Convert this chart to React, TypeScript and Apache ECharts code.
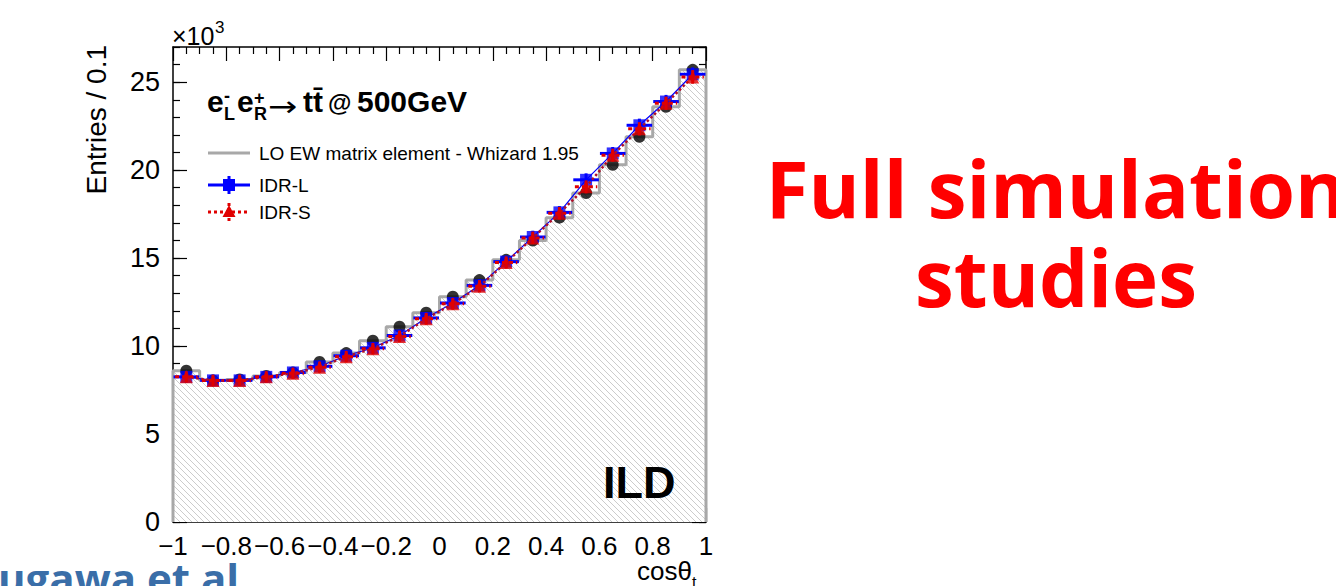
import React, { useEffect, useRef } from "react";
import * as echarts from "echarts";

// cos(theta_t) bin centres, bin width 0.1
const binCenters = [
  -0.95, -0.85, -0.75, -0.65, -0.55, -0.45, -0.35, -0.25, -0.15, -0.05,
  0.05, 0.15, 0.25, 0.35, 0.45, 0.55, 0.65, 0.75, 0.85, 0.95,
];
const binHalfWidth = 0.05;

// Entries per bin, in units of 10^3
const whizardLO = [
  8.6, 8.05, 8.1, 8.3, 8.5, 9.1, 9.6, 10.3, 11.1, 11.9,
  12.8, 13.75, 14.9, 16.0, 17.3, 18.7, 20.3, 21.9, 23.6, 25.7,
];
const idrL = [
  8.25, 8.05, 8.05, 8.25, 8.5, 8.85, 9.45, 9.9, 10.6, 11.6,
  12.45, 13.45, 14.8, 16.2, 17.6, 19.45, 20.95, 22.55, 23.9, 25.45,
];
const idrLErr = [
  0.09, 0.09, 0.09, 0.09, 0.09, 0.09, 0.1, 0.1, 0.1, 0.11,
  0.11, 0.12, 0.12, 0.13, 0.13, 0.14, 0.14, 0.15, 0.15, 0.16,
];
const idrS = [
  8.25, 8.05, 8.05, 8.25, 8.45, 8.8, 9.4, 9.85, 10.55, 11.55,
  12.4, 13.4, 14.75, 16.15, 17.55, 19.05, 20.85, 22.35, 23.8, 25.3,
];
const idrSErr = [
  0.09, 0.09, 0.09, 0.09, 0.09, 0.09, 0.1, 0.1, 0.1, 0.11,
  0.11, 0.12, 0.12, 0.13, 0.13, 0.14, 0.14, 0.15, 0.15, 0.16,
];

// Axis ranges
const X_MIN = -1;
const X_MAX = 1;
const X_STEP = 0.2;
const Y_MIN = 0;
const Y_MAX = 27;
const Y_STEP = 5;
const Y_MINOR_STEP = 1;

const ROOT_FONT = '"Liberation Sans", Arial, Helvetica, sans-serif';
const SLIDE_FONT = '"Open Sans", "Noto Sans", sans-serif';
const BLUE = "#0000ff";
const RED = "#e00000";
const GREY = "#a8a8a8";

function makeHatch(): HTMLCanvasElement {
  const s = 6;
  const c = document.createElement("canvas");
  c.width = s;
  c.height = s;
  const g = c.getContext("2d")!;
  g.fillStyle = "#ffffff";
  g.fillRect(0, 0, s, s);
  g.strokeStyle = "#cccccc";
  g.lineWidth = 1;
  g.beginPath();
  for (let k = -1; k <= 1; k++) {
    g.moveTo(k * s - 1, -1);
    g.lineTo(k * s + s + 1, s + 1);
  }
  g.stroke();
  return c;
}

function fmtX(v: number): string {
  const r = Math.round(v * 10) / 10;
  if (r === 0) return "0";
  const s = String(Math.abs(r));
  return r < 0 ? "\u2212" + s : s;
}

function errorBars(
  name: string,
  vals: number[],
  errs: number[],
  half: number,
  color: string,
  dashed: boolean,
  z: number
) {
  return {
    type: "custom",
    name,
    z,
    xAxisIndex: 0,
    yAxisIndex: 0,
    data: binCenters.map((c, i) => [c, vals[i], errs[i]]),
    renderItem: (_p: any, api: any) => {
      const x = api.value(0);
      const y = api.value(1);
      const e = api.value(2);
      const l = api.coord([x - half, y]);
      const r = api.coord([x + half, y]);
      const t = api.coord([x, y + e]);
      const b = api.coord([x, y - e]);
      return {
        type: "group",
        children: [
          {
            type: "line",
            shape: { x1: l[0], y1: l[1], x2: r[0], y2: r[1] },
            style: { stroke: color, lineWidth: 3, lineDash: dashed ? [4, 3] : null },
          },
          {
            type: "line",
            shape: { x1: t[0], y1: t[1] - 4, x2: b[0], y2: b[1] + 4 },
            style: { stroke: color, lineWidth: 3 },
          },
        ],
      };
    },
  };
}

function txt(
  text: string,
  x: number,
  y: number,
  size: number,
  opts: { weight?: string; family?: string; fill?: string; align?: string; rotation?: number; scaleX?: number } = {}
) {
  return {
    type: "text",
    x,
    y,
    rotation: opts.rotation || 0,
    scaleX: opts.scaleX || 1,
    z: 100,
    style: {
      text,
      fill: opts.fill || "#000",
      fontSize: size,
      fontWeight: opts.weight || "normal",
      fontFamily: opts.family || ROOT_FONT,
      align: opts.align || "left",
      verticalAlign: "middle",
    },
  };
}

export default function App() {
  const ref = useRef<HTMLDivElement>(null);

  useEffect(() => {
    if (!ref.current) return;
    const chart = echarts.init(ref.current, null, { renderer: "svg" });

    const hatch = makeHatch();
    const stepPoints: number[][] = [[X_MIN, 0]];
    binCenters.forEach((c, i) => {
      stepPoints.push([+(c - binHalfWidth).toFixed(2), whizardLO[i]]);
      stepPoints.push([+(c + binHalfWidth).toFixed(2), whizardLO[i]]);
    });
    stepPoints.push([X_MAX, 0]);

    const axisLine = { show: true, onZero: false, lineStyle: { color: "#000", width: 1.5 } };
    const noLine = { show: false, onZero: false };
    const tickLine = { color: "#000", width: 1.2 };

    const xBase = {
      type: "value",
      min: X_MIN,
      max: X_MAX,
      interval: X_STEP,
      axisLine,
      axisTick: { show: true, inside: true, length: 14, lineStyle: tickLine },
      minorTick: { show: true, splitNumber: 4, length: 7, lineStyle: tickLine },
      splitLine: { show: false },
      minorSplitLine: { show: false },
    };
    const yBase = {
      type: "value",
      min: Y_MIN,
      max: Y_MAX,
      splitLine: { show: false },
    };

    const legendY = [153, 185, 212];

    chart.setOption({
      animation: false,
      backgroundColor: "#ffffff",
      grid: { left: 173, right: 630, top: 47, bottom: 64, containLabel: false },
      xAxis: [
        {
          ...xBase,
          position: "bottom",
          axisLabel: {
            show: true,
            color: "#000",
            fontSize: 26,
            fontFamily: ROOT_FONT,
            margin: 11,
            formatter: fmtX,
          },
        },
        { ...xBase, position: "top", axisLabel: { show: false } },
      ],
      yAxis: [
        {
          ...yBase,
          position: "left",
          interval: Y_STEP,
          axisLine,
          axisTick: { show: true, inside: true, length: 14, lineStyle: tickLine },
          axisLabel: {
            show: true,
            color: "#000",
            fontSize: 27,
            fontFamily: ROOT_FONT,
            margin: 13,
            showMaxLabel: false,
          },
        },
        {
          ...yBase,
          position: "left",
          interval: Y_MINOR_STEP,
          axisLine: noLine,
          axisTick: { show: true, inside: true, length: 7, lineStyle: tickLine },
          axisLabel: { show: false },
        },
        {
          ...yBase,
          position: "right",
          interval: Y_STEP,
          axisLine,
          axisTick: { show: true, inside: true, length: 14, lineStyle: tickLine },
          axisLabel: { show: false },
        },
        {
          ...yBase,
          position: "right",
          interval: Y_MINOR_STEP,
          axisLine: noLine,
          axisTick: { show: true, inside: true, length: 7, lineStyle: tickLine },
          axisLabel: { show: false },
        },
      ],
      series: [
        {
          type: "line",
          name: "LO EW matrix element - Whizard 1.95",
          z: 1,
          data: stepPoints,
          symbol: "none",
          lineStyle: { color: GREY, width: 3 },
          areaStyle: {
            color: { image: hatch, repeat: "repeat", imageWidth: 6, imageHeight: 6 },
            opacity: 1,
          },
        },
        {
          type: "scatter",
          name: "LO points",
          z: 2,
          data: binCenters.map((c, i) => [c, whizardLO[i]]),
          symbol: "circle",
          symbolSize: 12,
          itemStyle: { color: "#000" },
        },
        {
          type: "line",
          name: "IDR-L line",
          z: 3,
          data: binCenters.map((c, i) => [c, idrL[i]]),
          symbol: "none",
          lineStyle: { color: BLUE, width: 1.2 },
        },
        errorBars("IDR-L errors", idrL, idrLErr, 0.048, BLUE, false, 4),
        {
          type: "scatter",
          name: "IDR-L",
          z: 5,
          data: binCenters.map((c, i) => [c, idrL[i]]),
          symbol: "rect",
          symbolSize: 12,
          itemStyle: { color: BLUE },
        },
        {
          type: "line",
          name: "IDR-S line",
          z: 6,
          data: binCenters.map((c, i) => [c, idrS[i]]),
          symbol: "none",
          lineStyle: { color: "#b0102a", width: 2.5, type: [2.5, 2.5] },
        },
        errorBars("IDR-S errors", idrS, idrSErr, 0.042, RED, true, 7),
        {
          type: "scatter",
          name: "IDR-S",
          z: 8,
          data: binCenters.map((c, i) => [c, idrS[i]]),
          symbol: "triangle",
          symbolSize: 13,
          itemStyle: { color: RED },
        },
      ],
      graphic: [
        // axis multiplier
        txt("\u00d710", 172, 36, 25),
        txt("3", 215, 27, 17),
        // axis titles
        txt("Entries / 0.1", 96.6, 45, 28, { rotation: Math.PI / 2, align: "right" }),
        txt("cos\u03b8", 637, 571, 26),
        txt("t", 692, 582, 16),
        // process label
        txt("e", 207, 101.6, 30, { weight: "bold" }),
        txt("-", 224, 95.6, 18, { weight: "bold" }),
        txt("L", 224, 113.8, 18, { weight: "bold" }),
        txt("e", 237, 101.6, 30, { weight: "bold" }),
        txt("+", 254, 97.8, 18, { weight: "bold" }),
        txt("R", 254, 113.8, 18, { weight: "bold" }),
        txt("\u2192", 268, 106, 28, { family: '"DejaVu Sans"', scaleX: 1.25 }),
        txt("tt\u0304", 303, 101.6, 30, { weight: "bold" }),
        txt("@", 328, 102.5, 24, { weight: "bold" }),
        txt("500GeV", 357, 101.6, 30, { weight: "bold" }),
        // legend
        {
          type: "line",
          z: 100,
          shape: { x1: 208, y1: legendY[0], x2: 250, y2: legendY[0] },
          style: { stroke: GREY, lineWidth: 3 },
        },
        txt("LO EW matrix element - Whizard 1.95", 259, legendY[0], 19),
        {
          type: "line",
          z: 100,
          shape: { x1: 208, y1: legendY[1], x2: 250, y2: legendY[1] },
          style: { stroke: BLUE, lineWidth: 3 },
        },
        {
          type: "line",
          z: 100,
          shape: { x1: 229, y1: legendY[1] - 9, x2: 229, y2: legendY[1] + 9 },
          style: { stroke: BLUE, lineWidth: 3 },
        },
        {
          type: "rect",
          z: 101,
          shape: { x: 223, y: legendY[1] - 6, width: 12, height: 12 },
          style: { fill: BLUE },
        },
        txt("IDR-L", 259, legendY[1], 19),
        {
          type: "line",
          z: 100,
          shape: { x1: 208, y1: legendY[2], x2: 250, y2: legendY[2] },
          style: { stroke: RED, lineWidth: 3, lineDash: [3, 3] },
        },
        {
          type: "line",
          z: 100,
          shape: { x1: 229, y1: legendY[2] - 9, x2: 229, y2: legendY[2] + 9 },
          style: { stroke: RED, lineWidth: 3, lineDash: [3, 2] },
        },
        {
          type: "polygon",
          z: 101,
          shape: {
            points: [
              [229, legendY[2] - 7],
              [222.5, legendY[2] + 5],
              [235.5, legendY[2] + 5],
            ],
          },
          style: { fill: RED },
        },
        txt("IDR-S", 259, legendY[2], 19),
        // experiment label
        txt("ILD", 603, 482, 45, { weight: "bold" }),
        // slide texts
        txt("Full simulation", 1056, 188, 78, {
          weight: "bold",
          family: SLIDE_FONT,
          fill: "#ff0000",
          align: "center",
        }),
        txt("studies", 1056, 277, 78, {
          weight: "bold",
          family: SLIDE_FONT,
          fill: "#ff0000",
          align: "center",
        }),
        txt("ugawa et al", -2, 577, 42, {
          weight: "bold",
          family: SLIDE_FONT,
          fill: "#3a6ea8",
        }),
      ],
    });

    return () => chart.dispose();
  }, []);

  return (
    <div
      ref={ref}
      style={{ position: "fixed", left: 0, top: 0, width: 1336, height: 586, background: "#fff" }}
    />
  );
}
